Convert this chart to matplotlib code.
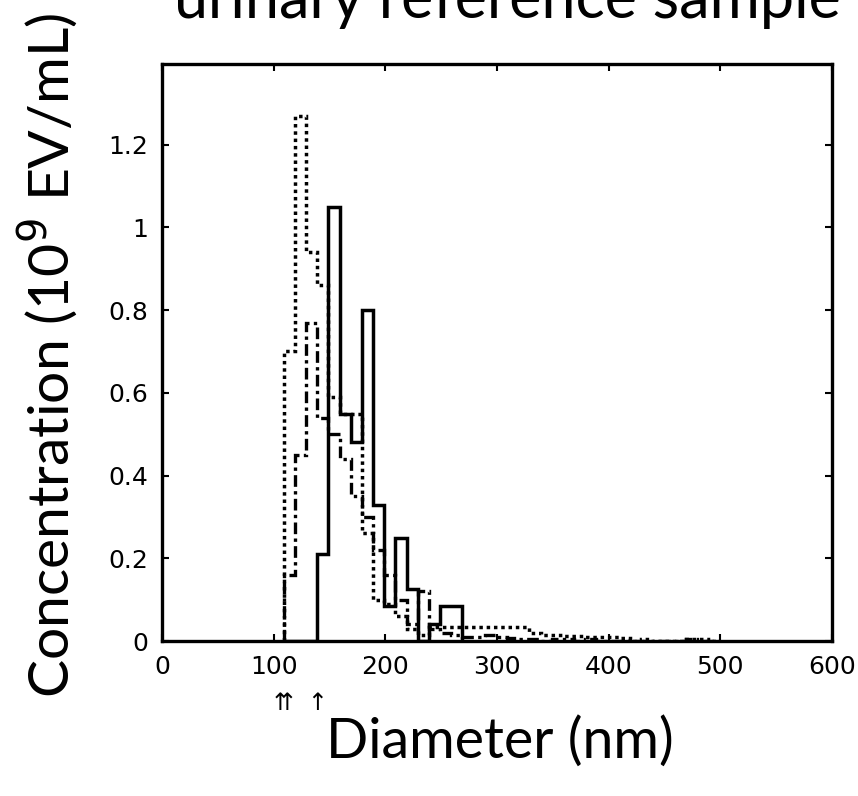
import numpy as np
import matplotlib.pyplot as plt

# 10 nm size bins, lower edge of the first bin at 109 nm
bin_start = 109
bin_width = 10

# concentration per bin (10^9 EV/mL), one list per measurement
solid_vals = [0, 0, 0, 0.21, 1.05, 0.55, 0.48, 0.80, 0.33, 0.085, 0.25, 0.125,
              0, 0.04, 0.085, 0.085]
dotted_vals = [0.70, 1.27, 0.94, 0.86, 0.59, 0.55, 0.55, 0.26, 0.10, 0.09, 0.06,
               0.03, 0.015, 0.035, 0.035, 0.035, 0.035, 0.035, 0.035, 0.035, 0.035,
               0.035, 0.02, 0.015, 0.015, 0.012, 0.012, 0.01, 0.01, 0.01, 0.008,
               0, 0.006, 0, 0, 0, 0.006, 0.006, 0]
dashdot_vals = [0.16, 0.45, 0.77, 0.54, 0.50, 0.44, 0.35, 0.30, 0.22, 0.16, 0.10,
                0.04, 0.12, 0.03, 0.02, 0.015, 0.01, 0.01, 0.015, 0.01, 0.008,
                0.006, 0.006, 0, 0.005, 0.005, 0, 0.005, 0, 0, 0,
                0, 0, 0, 0, 0, 0.005, 0, 0]

xticks = [0, 100, 200, 300, 400, 500, 600]
yticks = [0, 0.2, 0.4, 0.6, 0.8, 1.0, 1.2]
ytick_labels = ['0', '0.2', '0.4', '0.6', '0.8', '1', '1.2']


def edges_for(vals):
    return bin_start + bin_width * np.arange(len(vals) + 1)


fig = plt.figure(figsize=(8.58, 7.96), dpi=100)
ax = fig.add_axes([0.1888, 0.1947, 0.7809, 0.7249])

ax.stairs(dotted_vals, edges_for(dotted_vals), baseline=0, color='black',
          linestyle=(0, (1, 1.1)), linewidth=2.5)
ax.stairs(dashdot_vals, edges_for(dashdot_vals), baseline=0, color='black',
          linestyle=(0, (3.5, 1.3, 1, 1.3)), linewidth=2.4)
ax.stairs(solid_vals, edges_for(solid_vals), baseline=0, color='black',
          linestyle='-', linewidth=2.5)

ax.set_xlim(0, 600)
ax.set_ylim(0, 1.395)
ax.set_xticks(xticks)
ax.set_yticks(yticks)
ax.set_yticklabels(ytick_labels)
ax.tick_params(direction='in', top=True, right=True, length=5, width=1.5,
               labelsize=18)
ax.tick_params(axis='y', pad=10)
ax.tick_params(axis='x', pad=10)
for lab in ax.get_xticklabels() + ax.get_yticklabels():
    lab.set_family('DejaVu Sans')
for sp in ax.spines.values():
    sp.set_linewidth(2.4)

# markers for the lower size limits below the axis
ax.text(109, -0.15, '\u21c8', ha='center', va='center', fontsize=17,
        family='DejaVu Sans')
ax.text(139, -0.15, '\u2191', ha='center', va='center', fontsize=17,
        family='DejaVu Sans')

fig.text(0.592, 1 - 18 / 796, 'urinary reference sample', ha='center',
         va='baseline', fontsize=44, family='Lato')
fig.text(48 / 858, 1 - 355 / 796, 'Concentration (10$^{9}$ EV/mL)', rotation=90,
         ha='center', va='center', fontsize=41, family='Lato')
fig.text(500 / 858, 1 - 742 / 796, 'Diameter (nm)', ha='center', va='center',
         fontsize=40, family='Lato')

fig.savefig('out.png', dpi=100)
